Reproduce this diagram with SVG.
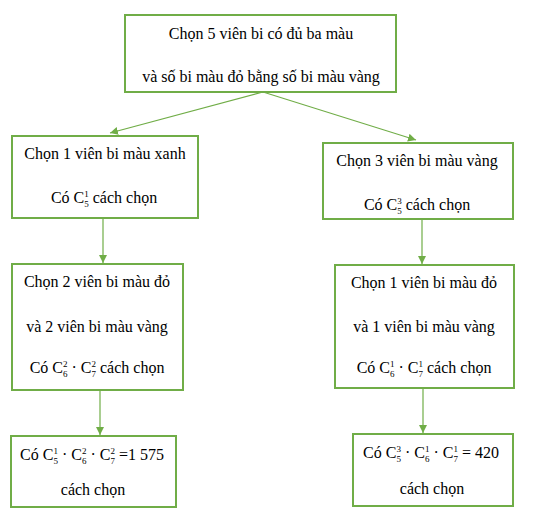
<svg xmlns="http://www.w3.org/2000/svg" width="537" height="516" viewBox="0 0 537 516">
<style>
.box{fill:#fff;stroke:#70AD47;stroke-width:2}
text{font-size:16px;fill:#000;text-anchor:middle}
.s{font-size:9px}
.c{stroke:#70AD47;stroke-width:1.2;fill:none}
</style>
<defs>
<marker id="ah" viewBox="0 0 10 10" refX="10" refY="5" markerWidth="8" markerHeight="8" markerUnits="userSpaceOnUse" orient="auto">
<path d="M0,0 L10,5 L0,10 Z" fill="#70AD47"/>
</marker>
</defs>
<rect width="537" height="516" fill="#fff"/>
<g id="connectors">
<line class="c" x1="263" y1="92" x2="110" y2="133" marker-end="url(#ah)"/>
<line class="c" x1="263" y1="92" x2="416" y2="140" marker-end="url(#ah)"/>
<line class="c" x1="103" y1="218" x2="103" y2="263" marker-end="url(#ah)"/>
<line class="c" x1="422" y1="219" x2="422" y2="264" marker-end="url(#ah)"/>
<line class="c" x1="100" y1="390" x2="100" y2="435" marker-end="url(#ah)"/>
<line class="c" x1="423" y1="388" x2="423" y2="433" marker-end="url(#ah)"/>
</g>
<g font-family="Times New Roman, Liberation Serif, DejaVu Serif, serif">
<g id="top">
<rect class="box" x="125" y="15" width="271" height="77"/>
<text x="261" y="39">Chọn 5 viên bi có đủ ba màu</text>
<text x="261" y="82">và số bi màu đỏ bằng số bi màu vàng</text>
</g>
<g id="left1">
<rect class="box" x="12" y="136" width="186" height="82"/>
<text x="105" y="159">Chọn 1 viên bi màu xanh</text>
<text x="104" y="203">Có C<tspan class="s" dy="-6">1</tspan><tspan class="s" dx="-4.5" dy="10">5</tspan><tspan dy="-4"> cách chọn</tspan></text>
</g>
<g id="right1">
<rect class="box" x="323" y="143" width="190" height="76"/>
<text x="417" y="166">Chọn 3 viên bi màu vàng</text>
<text x="417" y="210">Có C<tspan class="s" dy="-6">3</tspan><tspan class="s" dx="-4.5" dy="10">5</tspan><tspan dy="-4"> cách chọn</tspan></text>
</g>
<g id="left2">
<rect class="box" x="12" y="264" width="171" height="126"/>
<text x="97" y="287">Chọn 2 viên bi màu đỏ</text>
<text x="97" y="332">và 2 viên bi màu vàng</text>
<text x="97" y="373">Có C<tspan class="s" dy="-6">2</tspan><tspan class="s" dx="-4.5" dy="10">6</tspan><tspan dy="-4"> · C</tspan><tspan class="s" dy="-6">2</tspan><tspan class="s" dx="-4.5" dy="10">7</tspan><tspan dy="-4"> cách chọn</tspan></text>
</g>
<g id="right2">
<rect class="box" x="335" y="265" width="179" height="123"/>
<text x="424" y="288">Chọn 1 viên bi màu đỏ</text>
<text x="424" y="332">và 1 viên bi màu vàng</text>
<text x="424" y="373">Có C<tspan class="s" dy="-6">1</tspan><tspan class="s" dx="-4.5" dy="10">6</tspan><tspan dy="-4"> · C</tspan><tspan class="s" dy="-6">1</tspan><tspan class="s" dx="-4.5" dy="10">7</tspan><tspan dy="-4"> cách chọn</tspan></text>
</g>
<g id="left3">
<rect class="box" x="11" y="436" width="165" height="71"/>
<text x="92" y="460">Có C<tspan class="s" dy="-6">1</tspan><tspan class="s" dx="-4.5" dy="10">5</tspan><tspan dy="-4"> · C</tspan><tspan class="s" dy="-6">2</tspan><tspan class="s" dx="-4.5" dy="10">6</tspan><tspan dy="-4"> · C</tspan><tspan class="s" dy="-6">2</tspan><tspan class="s" dx="-4.5" dy="10">7</tspan><tspan dy="-4"> =1 575</tspan></text>
<text x="93" y="495">cách chọn</text>
</g>
<g id="right3">
<rect class="box" x="353" y="434" width="160" height="72"/>
<text x="431" y="458">Có C<tspan class="s" dy="-6">3</tspan><tspan class="s" dx="-4.5" dy="10">5</tspan><tspan dy="-4"> · C</tspan><tspan class="s" dy="-6">1</tspan><tspan class="s" dx="-4.5" dy="10">6</tspan><tspan dy="-4"> · C</tspan><tspan class="s" dy="-6">1</tspan><tspan class="s" dx="-4.5" dy="10">7</tspan><tspan dy="-4"> = 420</tspan></text>
<text x="432" y="494">cách chọn</text>
</g>
</g>
</svg>
